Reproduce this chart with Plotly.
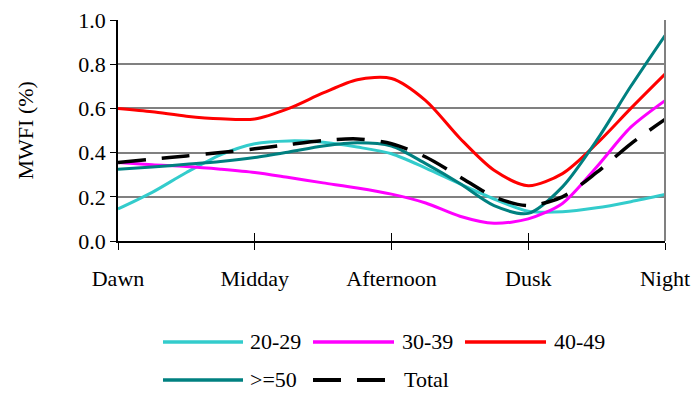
import plotly.graph_objects as go

# Sample points along the day, in units of the five labelled periods (quarter steps)
day_pos = [0, 0.25, 0.5, 0.75, 1, 1.25, 1.5, 1.75, 2, 2.25, 2.5, 2.75, 3, 3.25, 3.5, 3.75, 4]
period_labels = ["Dawn", "Midday", "Afternoon", "Dusk", "Night"]

# MWFI (%) by age group
mwfi_20_29 = [0.145, 0.22, 0.31, 0.39, 0.44, 0.453, 0.447, 0.425, 0.395, 0.33, 0.258, 0.19,
              0.135, 0.132, 0.15, 0.178, 0.21]
mwfi_30_39 = [0.355, 0.345, 0.337, 0.325, 0.31, 0.287, 0.263, 0.24, 0.212, 0.172, 0.112, 0.08,
              0.10, 0.17, 0.335, 0.515, 0.635]
mwfi_40_49 = [0.60, 0.585, 0.565, 0.553, 0.552, 0.60, 0.67, 0.73, 0.735, 0.635, 0.465, 0.32,
              0.25, 0.305, 0.44, 0.60, 0.755]
mwfi_50_up = [0.325, 0.335, 0.347, 0.36, 0.378, 0.403, 0.43, 0.445, 0.43, 0.35, 0.26, 0.16,
              0.125, 0.245, 0.455, 0.70, 0.93]
mwfi_total = [0.355, 0.37, 0.385, 0.40, 0.417, 0.437, 0.455, 0.462, 0.44, 0.38, 0.29, 0.20,
              0.16, 0.20, 0.31, 0.44, 0.55]

series = [
    ("20-29", mwfi_20_29, "#33CCCC", "solid", 3),
    ("30-39", mwfi_30_39, "#FF00FF", "solid", 3),
    ("40-49", mwfi_40_49, "#FF0000", "solid", 3),
    (">=50", mwfi_50_up, "#008080", "solid", 3),
    ("Total", mwfi_total, "#000000", "28px,16px", 3.5),
]

FONT = "Liberation Serif, Times New Roman, serif"
L, R, T, B = 118, 29, 20, 152
W, H = 694, 393
PW, PH = W - L - R, H - T - B


def px_x(px):
    return (px - L) / PW


def px_y(py):
    return (T + PH - py) / PH


fig = go.Figure()
for name, vals, color, dash, width in series:
    fig.add_trace(go.Scatter(
        x=day_pos, y=vals, name=name, mode="lines",
        line=dict(color=color, width=width, dash=dash, shape="spline", smoothing=0.8),
        showlegend=False,
    ))

# Legend drawn below the plot: sample line followed by its label
legend_rows = [
    [(0, 163, 243, 248), (1, 313, 394, 400), (2, 465, 546, 552)],
    [(3, 163, 243, 248), (4, 313, 394, 402)],
]
row_y = [341, 379]
shapes = []
annotations = []
for row, py in zip(legend_rows, row_y):
    for idx, x0, x1, xt in row:
        name, _, color, dash, width = series[idx]
        shapes.append(dict(
            type="line", xref="paper", yref="paper",
            x0=px_x(x0), x1=px_x(x1), y0=px_y(py + 1), y1=px_y(py + 1),
            line=dict(color=color, width=3.5 if dash == "solid" else 4,
                      dash=dash),
        ))
        annotations.append(dict(
            text=name, xref="paper", yref="paper", x=px_x(xt), y=px_y(py),
            xanchor="left", yanchor="middle", showarrow=False,
            font=dict(family=FONT, size=22, color="black"),
        ))

# Right-hand border of the plot area
shapes.append(dict(type="line", xref="paper", yref="paper", x0=1, x1=1, y0=0, y1=1,
                   line=dict(color="#808080", width=2)))

# Vertical axis title
annotations.append(dict(
    text="MWFI (%)", xref="paper", yref="paper", x=px_x(25), y=0.5,
    xanchor="center", yanchor="middle", textangle=-90, showarrow=False,
    font=dict(family=FONT, size=22, color="black"),
))

fig.update_layout(
    width=W, height=H,
    margin=dict(l=L, r=R, t=T, b=B, autoexpand=False),
    paper_bgcolor="white", plot_bgcolor="white",
    font=dict(family=FONT, size=22, color="black"),
    shapes=shapes, annotations=annotations,
    xaxis=dict(
        range=[0, 4], tickmode="array", tickvals=[0, 1, 2, 3, 4], ticktext=period_labels,
        showgrid=False, zeroline=False, showline=True, linecolor="black", linewidth=1.5,
        ticks="outside", ticklen=7, tickcolor="black", tickwidth=1,
        ticklabelstandoff=10,
        tickfont=dict(family=FONT, size=22, color="black"),
    ),
    xaxis2=dict(
        range=[0, 4], overlaying="x", side="bottom", tickmode="array",
        tickvals=[0, 1, 2, 3, 4], showticklabels=False, showgrid=False, zeroline=False,
        showline=False, ticks="inside", ticklen=8, tickcolor="black", tickwidth=1,
    ),
    yaxis=dict(
        range=[0, 1.0], tickmode="array", tickvals=[0, 0.2, 0.4, 0.6, 0.8, 1.0],
        tickformat=".1f", showgrid=True, gridcolor="#808080", gridwidth=1.5,
        zeroline=False, showline=True, linecolor="black", linewidth=1.5,
        ticks="outside", ticklen=6, tickcolor="black", tickwidth=1,
        tickfont=dict(family=FONT, size=22, color="black"),
    ),
)

# Invisible trace so the overlaid tick axis is drawn
fig.add_trace(go.Scatter(x=[0, 4], y=[0, 0], xaxis="x2", mode="lines",
                         line=dict(width=0), hoverinfo="skip", showlegend=False))

fig.write_html("out.html")
